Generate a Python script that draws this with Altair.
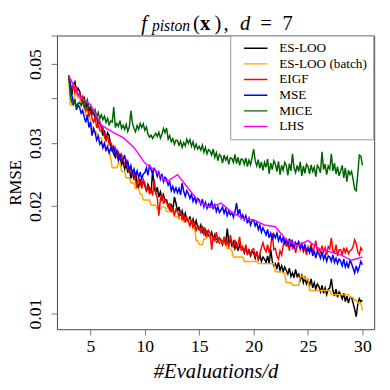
import altair as alt
import pandas as pd

FONT = "Liberation Serif"

methods = ["ES-LOO", "ES-LOO (batch)", "EIGF", "MSE", "MICE", "LHS"]
colors = ["#000000", "#FFA500", "#FF0000", "#0000FF", "#006400", "#FF00FF"]

# evaluations / d  (d = 7), 21 .. 210 evaluations
n_eval = list(range(21, 211))
x_grid = [n / 7 for n in n_eval]

# RMSE values in units of 1e-3, one row per unit of #Evaluations/d
es_loo = [
    46.4, 43.2, 41.0, 43.8, 44.6, 41.5, 42.8,
    42.0, 40.2, 38.9, 40.5, 37.6, 38.8, 36.9,
    37.8, 36.2, 37.4, 34.9, 35.8, 33.6, 34.5,
    33.2, 31.5, 32.6, 30.4, 32.1, 31.6, 29.5,
    28.8, 28.0, 27.4, 28.6, 26.8, 27.5, 26.1,
    26.7, 25.4, 26.2, 24.8, 25.6, 23.9, 24.7,
    23.9, 24.8, 23.2, 22.6, 23.8, 22.9, 23.4,
    22.8, 22.1, 23.0, 22.4, 21.8, 25.2, 22.5,
    21.8, 22.6, 21.2, 21.9, 20.9, 21.5, 20.6,
    20.8, 20.1, 19.6, 20.3, 19.4, 21.2, 20.4,
    19.3, 19.9, 18.8, 19.4, 18.5, 19.1, 18.3,
    18.1, 18.7, 17.8, 18.4, 17.6, 18.2, 17.4,
    17.2, 17.7, 16.9, 17.3, 16.6, 17.0, 16.5,
    16.4, 16.9, 16.1, 16.6, 15.9, 16.3, 15.8,
    16.0, 15.6, 16.2, 15.7, 17.3, 15.9, 16.1,
    15.5, 15.9, 15.2, 15.7, 15.0, 15.6, 15.3,
    15.2, 14.8, 15.4, 14.7, 15.0, 14.5, 14.9,
    14.8, 14.3, 14.9, 14.2, 14.6, 14.0, 14.4,
    14.2, 13.9, 14.5, 13.8, 15.1, 14.0, 13.6,
    13.8, 13.4, 13.9, 13.2, 13.6, 13.1, 13.5,
    13.2, 12.9, 13.4, 12.7, 13.0, 12.6, 13.3,
    12.7, 12.9, 12.4, 12.8, 12.2, 12.6, 12.1,
    12.4, 12.0, 12.5, 11.8, 12.2, 11.7, 12.1,
    11.9, 11.5, 12.0, 11.4, 11.8, 11.3, 11.7,
    11.8, 12.5, 11.6, 11.2, 11.7, 11.1, 11.5,
    11.3, 11.0, 11.4, 10.8, 11.2, 10.7, 11.1,
    11.1, 10.7, 10.3, 9.8, 10.6, 11.0, 10.8,
    10.9,
]

es_loo_batch = [
    46.4, 38.4, 38.4, 38.4, 41.5, 41.5, 40.2,
    40.2, 38.6, 38.6, 38.6, 36.0, 36.0, 36.0,
    34.8, 33.0, 33.0, 32.2, 32.2, 31.0, 31.0,
    31.0, 29.8, 29.8, 28.6, 28.6, 28.6, 27.2,
    25.6, 25.6, 25.6, 25.6, 26.4, 26.4, 25.0,
    25.0, 25.0, 24.0, 24.0, 24.0, 23.2, 23.2,
    23.2, 22.4, 22.4, 22.4, 21.6, 21.6, 20.8,
    20.8, 20.8, 20.8, 20.8, 20.1, 20.1, 20.1,
    20.1, 19.6, 19.6, 19.6, 19.9, 19.9, 19.9,
    19.3, 19.3, 19.3, 19.3, 19.3, 18.7, 18.7,
    18.7, 18.4, 18.4, 18.4, 18.1, 18.1, 18.1,
    18.3, 18.3, 18.3, 17.6, 17.6, 16.0, 16.0,
    15.6, 15.6, 15.6, 16.2, 16.2, 16.4, 16.4,
    16.4, 16.4, 16.0, 16.0, 16.0, 15.9, 15.9,
    15.9, 15.8, 15.8, 15.8, 15.2, 15.2, 15.2,
    15.0, 14.4, 14.4, 14.4, 14.4, 14.4, 14.4,
    14.4, 14.0, 14.0, 14.0, 14.0, 14.0, 14.0,
    14.0, 14.0, 14.0, 13.8, 13.8, 13.8, 13.8,
    13.8, 13.8, 13.8, 13.8, 13.8, 13.8, 13.8,
    13.1, 13.1, 13.1, 13.1, 13.1, 13.0, 13.0,
    12.2, 12.2, 12.2, 12.2, 12.0, 12.0, 12.0,
    12.0, 12.0, 12.7, 12.7, 12.7, 12.5, 12.5,
    12.5, 11.6, 11.6, 11.6, 11.6, 11.6, 11.6,
    11.6, 11.6, 11.6, 11.6, 11.6, 11.6, 11.6,
    11.6, 11.3, 11.3, 11.3, 11.3, 11.3, 11.3,
    11.3, 11.3, 11.3, 11.3, 11.3, 11.3, 11.1,
    11.1, 11.1, 10.9, 10.9, 10.7, 10.7, 10.7,
    10.2,
]

eigf = [
    46.4, 44.0, 42.3, 43.5, 41.6, 42.8, 40.9,
    41.5, 39.8, 40.6, 38.1, 36.9, 37.8, 35.6,
    37.1, 35.2, 34.4, 35.6, 33.1, 34.0, 32.6,
    32.3, 33.4, 31.2, 30.5, 31.6, 29.8, 30.2,
    29.4, 28.5, 29.1, 27.6, 28.3, 27.2, 27.9,
    27.0, 26.2, 26.8, 25.5, 24.9, 25.8, 24.4,
    24.8, 23.6, 22.5, 24.1, 23.3, 22.4, 23.7,
    23.2, 22.0, 22.8, 21.6, 22.3, 21.4, 23.8,
    21.8, 21.1, 18.8, 20.9, 21.5, 20.3, 20.9,
    20.5, 19.8, 20.4, 19.2, 19.9, 18.8, 19.6,
    19.3, 18.7, 19.4, 18.4, 18.9, 18.0, 18.6,
    18.1, 17.6, 18.3, 17.4, 17.9, 17.0, 17.7,
    17.4, 16.9, 17.6, 16.7, 17.2, 16.5, 17.1,
    16.8, 15.1, 16.5, 16.0, 16.9, 15.8, 16.3,
    16.1, 15.7, 16.4, 15.5, 16.0, 15.3, 16.6,
    15.8, 15.3, 16.1, 15.2, 15.7, 16.4, 15.0,
    15.4, 14.8, 15.6, 14.6, 15.2, 14.5, 15.1,
    15.2, 14.4, 14.9, 14.1, 14.7, 15.3, 15.8,
    15.2, 14.9, 15.6, 14.8, 15.4, 16.8, 15.1,
    15.2, 14.5, 14.2, 15.0, 14.6, 15.5, 16.2,
    15.4, 15.9, 15.0, 16.1, 15.3, 15.7, 14.8,
    15.5, 15.8, 15.1, 15.6, 14.9, 15.3, 14.6,
    15.4, 15.0, 15.7, 14.8, 15.3, 16.0, 14.9,
    15.2, 14.7, 15.5, 14.9, 15.3, 14.6, 15.4,
    15.2, 16.3, 15.0, 14.8, 15.6, 14.5, 15.1,
    15.1, 14.6, 15.3, 14.8, 15.2, 14.7, 15.0,
    15.1, 15.4, 16.1, 15.7, 14.9, 14.6, 15.3,
    15.0,
]

mse = [
    46.4, 44.2, 41.0, 38.9, 39.6, 37.2, 38.4,
    37.8, 36.4, 37.1, 35.5, 34.3, 36.0, 33.2,
    34.4, 31.5, 33.0, 32.1, 30.6, 31.4, 29.8,
    30.3, 29.1, 30.0, 28.7, 29.4, 28.2, 29.0,
    28.5, 29.3, 27.8, 28.6, 27.1, 27.9, 26.8,
    27.0, 27.8, 26.1, 26.7, 25.3, 26.0, 24.6,
    25.4, 24.3, 25.1, 24.0, 24.9, 23.8, 24.6,
    24.8, 25.6, 24.4, 26.1, 25.3, 24.7, 25.5,
    25.1, 24.2, 24.9, 23.8, 24.6, 23.4, 24.1,
    23.8, 22.9, 23.4, 22.1, 22.7, 21.9, 22.5,
    21.8, 22.4, 21.5, 23.2, 22.0, 21.3, 22.1,
    21.7, 21.0, 21.6, 20.6, 21.2, 20.4, 21.0,
    20.8, 20.2, 20.9, 19.9, 20.5, 19.7, 20.3,
    20.0, 20.6, 19.6, 20.3, 19.3, 19.9, 19.2,
    19.5, 19.9, 19.1, 19.7, 18.8, 19.4, 18.9,
    19.2, 18.6, 19.3, 20.4, 18.9, 19.6, 18.5,
    18.9, 18.3, 18.8, 17.9, 18.5, 17.7, 18.2,
    18.3, 17.6, 18.0, 17.2, 17.7, 16.9, 17.4,
    17.0, 16.6, 17.2, 16.3, 16.8, 16.1, 16.7,
    16.3, 16.8, 16.0, 16.5, 15.8, 16.4, 15.7,
    16.1, 15.6, 16.2, 15.4, 15.9, 15.2, 15.8,
    15.5, 15.9, 15.3, 15.7, 15.1, 15.6, 15.0,
    15.2, 14.8, 15.4, 14.5, 15.0, 14.3, 14.9,
    14.7, 14.3, 14.9, 14.2, 14.6, 14.0, 14.5,
    14.4, 14.0, 14.6, 13.9, 14.3, 13.8, 14.2,
    14.0, 13.6, 14.2, 13.5, 13.9, 13.4, 14.1,
    13.8, 13.4, 13.0, 13.6, 13.1, 13.5, 14.0,
    13.7,
]

mice = [
    46.4, 41.2, 39.0, 38.4, 39.3, 38.1, 38.8,
    39.0, 38.2, 39.5, 37.8, 38.6, 39.7, 37.6,
    38.0, 37.0, 36.3, 37.2, 35.5, 36.6, 35.1,
    36.0, 34.9, 35.7, 34.3, 35.2, 33.8, 34.6,
    34.4, 37.9, 33.2, 34.1, 33.5, 34.7, 33.0,
    33.7, 32.8, 33.9, 32.4, 33.3, 37.0, 34.2,
    33.0, 32.3, 33.6, 32.8, 34.1, 33.2, 34.0,
    32.6, 33.3, 31.8, 31.2, 31.6, 30.9, 31.5,
    32.0, 31.3, 32.2, 31.0, 31.8, 33.0, 32.1,
    33.1, 30.8, 31.5, 30.3, 30.9, 29.8, 30.6,
    30.5, 29.6, 30.4, 29.2, 30.1, 29.5, 30.8,
    30.0, 30.7, 29.4, 30.3, 29.0, 29.8, 28.9,
    29.4, 28.7, 29.6, 28.3, 29.2, 28.0, 28.8,
    28.5, 27.8, 28.9, 27.4, 28.2, 26.8, 27.9,
    27.6, 26.4, 27.8, 26.9, 27.5, 26.2, 27.3,
    27.2, 26.5, 27.9, 26.3, 27.4, 26.0, 27.1,
    27.0, 26.2, 27.3, 25.8, 26.9, 26.1, 27.4,
    28.9, 26.8, 25.9, 27.0, 25.5, 26.6, 25.2,
    26.5, 25.7, 27.1, 24.6, 26.4, 25.3, 26.8,
    26.2, 25.0, 26.7, 24.5, 26.0, 25.2, 26.5,
    26.0, 24.4, 26.3, 25.1, 28.0, 25.6, 24.8,
    26.0, 25.0, 26.6, 24.3, 25.9, 24.7, 26.2,
    25.8, 24.6, 26.1, 25.0, 25.7, 24.2, 26.0,
    25.6, 24.8, 28.4, 25.3, 26.2, 24.5, 25.9,
    25.4, 28.0, 25.1, 26.4, 24.6, 25.8, 24.3,
    25.1, 26.0, 24.0, 25.6, 23.4, 25.2, 24.5,
    25.0, 23.8, 22.3, 22.1, 24.6, 27.8, 27.6,
    26.0,
]

# LHS evaluated at whole multiples of d
lhs_x = list(range(3, 31))
lhs = [46.4, 40.5, 38.5, 33.7, 32.3, 31.1, 29.2, 26.4, 25.1, 23.4,
       24.5, 22.4, 20.5, 19.8, 20.4, 19.2, 18.5, 18.3, 17.7, 17.5,
       16.1, 15.5, 16.0, 15.2, 14.9, 14.6, 14.1, 14.4]

rows = []
for name, vals in [("ES-LOO", es_loo), ("ES-LOO (batch)", es_loo_batch),
                   ("EIGF", eigf), ("MSE", mse), ("MICE", mice)]:
    for xv, v in zip(x_grid, vals):
        rows.append({"x": xv, "rmse": v / 1000.0, "method": name})
for xv, v in zip(lhs_x, lhs):
    rows.append({"x": float(xv), "rmse": v / 1000.0, "method": "LHS"})
df = pd.DataFrame(rows)

W, H = 324, 300

x_enc = alt.X(
    "x:Q",
    scale=alt.Scale(domain=[1.92, 31.08], nice=False, zero=False),
    axis=alt.Axis(
        values=[5, 10, 15, 20, 25, 30], grid=False, domain=False,
        tickColor="#777777", tickSize=6, labelFont=FONT, labelFontSize=18,
        labelColor="black", labelPadding=3, labelFlush=False,
        title="#Evaluations/d", titleFont=FONT, titleFontSize=21,
        titleFontStyle="italic", titleFontWeight="normal", titleColor="black",
        titleBaseline="alphabetic", titleY=49,
    ),
)
y_enc = alt.Y(
    "rmse:Q",
    scale=alt.Scale(type="log", domain=[0.00904, 0.0601], nice=False),
    axis=alt.Axis(
        values=[0.01, 0.02, 0.03, 0.04, 0.05, 0.06], format=".2f",
        labelExpr="(datum.value > 0.035 && datum.value < 0.045) || datum.value > 0.055 ? '' : datum.label",
        grid=False, domain=False, tickColor="#777777", tickSize=6,
        labelFont=FONT, labelFontSize=18, labelColor="black", labelAngle=270,
        labelAlign="center", labelBaseline="bottom", labelPadding=7,
        labelOverlap=False, labelFlush=False,
        title="RMSE", titleFont=FONT, titleFontSize=17, titleFontWeight="normal",
        titleColor="black", titleAngle=270, titleAlign="center",
        titleBaseline="alphabetic", titleX=-37, titleY=150,
    ),
)
color_enc = alt.Color(
    "method:N",
    scale=alt.Scale(domain=methods, range=colors),
    legend=alt.Legend(
        title=None, orient="none", legendX=177, legendY=0, direction="vertical",
        symbolType="stroke", symbolSize=576, symbolStrokeWidth=1.5,
        labelFont=FONT, labelFontSize=13.5, labelColor="black", labelOffset=11,
        padding=6, strokeColor="#999999", fillColor="white",
        clipHeight=14, rowPadding=2, symbolOffset=7,
    ),
)

layers = []
for m in methods:
    layers.append(
        alt.Chart(df).transform_filter(alt.datum.method == m)
        .mark_line(strokeWidth=1.5)
        .encode(x=x_enc, y=y_enc, color=color_enc)
    )


def txt(s, x, y, size, style="normal", weight="normal", align="left"):
    return alt.Chart(pd.DataFrame({"t": [s]})).mark_text(
        text=s, font=FONT, fontSize=size, fontStyle=style, fontWeight=weight,
        align=align, baseline="alphabetic", color="black",
    ).encode(x=alt.value(x), y=alt.value(y))


title_parts = [
    txt("f", 86, -6, 21, style="italic"),
    txt("piston", 97, -5, 16, style="italic"),
    txt("(", 139, -6, 21),
    txt("x", 146, -6, 21, weight="bold"),
    txt(")", 161, -6, 21),
    txt(",", 170, -6, 21),
    txt("d", 187, -6, 21, style="italic"),
    txt("=", 213.5, -6, 21, align="center"),
    txt("7", 235.5, -6, 21, align="center"),
]

chart = alt.layer(*layers, *title_parts).properties(
    width=W, height=H,
    padding={"left": 50, "top": 24, "right": 8, "bottom": 58},
    autosize=alt.AutoSizeParams(type="none"),
).configure_view(stroke="#444444", strokeWidth=1)

chart.save("out.html", embed_options={"renderer": "svg", "actions": False})
